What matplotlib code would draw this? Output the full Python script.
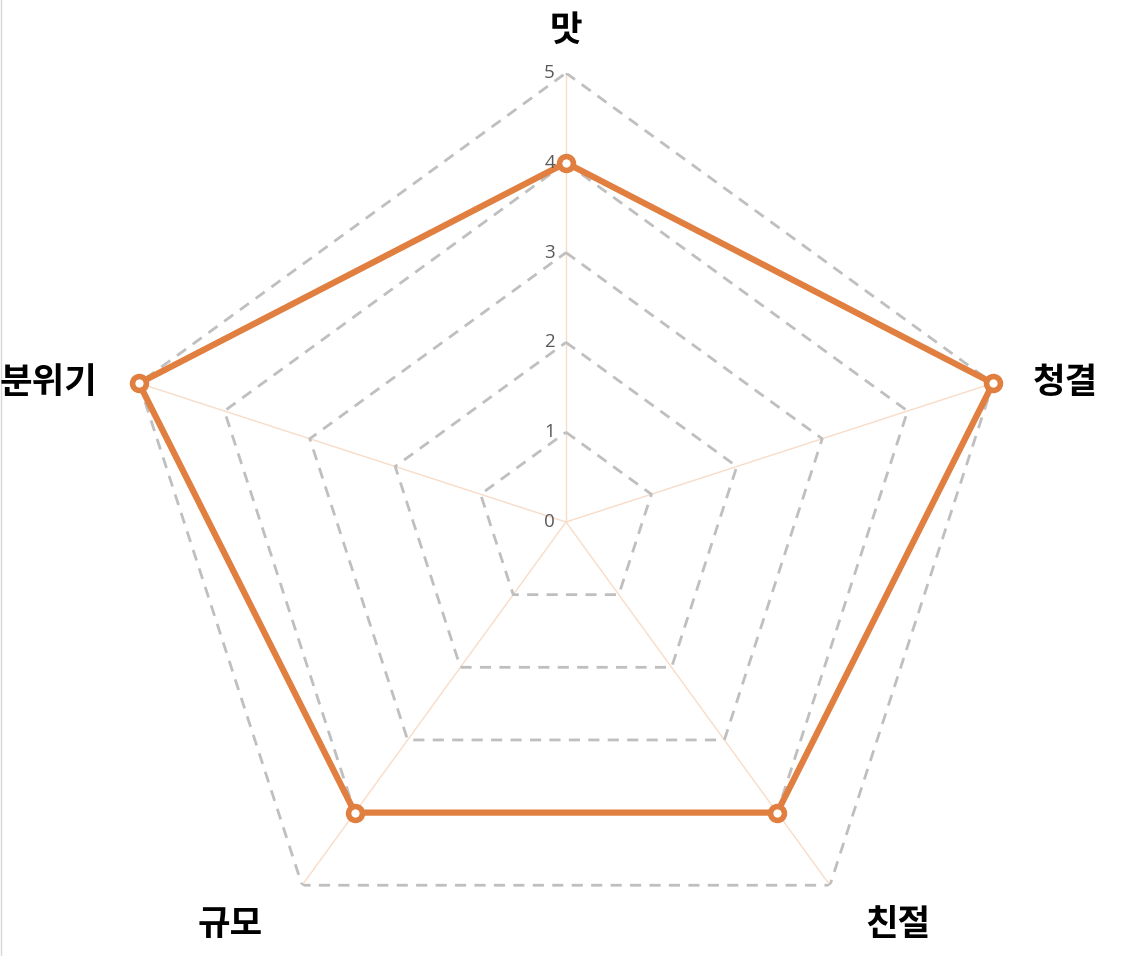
import numpy as np
import matplotlib
matplotlib.use("Agg")
import matplotlib.pyplot as plt
from matplotlib.lines import Line2D

plt.rcParams['font.family'] = ['Noto Sans CJK KR', 'DejaVu Sans']

categories = ['맛', '청결', '친절', '규모', '분위기']
values = [4, 5, 4, 4, 5]
ticks = [0, 1, 2, 3, 4, 5]

W, H = 1126, 956
fig = plt.figure(figsize=(W / 100, H / 100), dpi=100)
cx, cy, R = 566, 956 - 522, 449
ax = fig.add_axes([(cx - R) / W, (cy - R) / H, 2 * R / W, 2 * R / H], projection='polar')
ax.set_theta_zero_location('N')
ax.set_theta_direction(-1)
ax.set_ylim(0, 5)
ax.axis('off')

n = len(categories)
angles = np.arange(n) * 2 * np.pi / n
closed = np.append(angles, angles[0])

# spokes
for a in angles:
    ax.plot([a, a], [0, 5], color='#f8dcc8', lw=1.0, zorder=1)

# dashed grid polygons
for t in ticks[1:]:
    ax.plot(closed, [t] * (n + 1), color='#bfbfbf', lw=2.0, ls=(0, (4, 3)), zorder=2)

# data
vals = np.append(values, values[0])
ax.plot(closed, vals, color='#e07f3f', lw=4.5, zorder=4, solid_joinstyle='miter', clip_on=False)
ax.plot(angles, values, ls='none', marker='o', ms=10, mfc='white', mec='#e07f3f', mew=4,
        zorder=5, clip_on=False)

# tick labels
for t in ticks:
    ax.annotate(str(t), xy=(0, t), xytext=(-8, 0), textcoords='offset points',
                ha='right', va='center', fontsize=13.5, color='#595959',
                family=['Open Sans', 'DejaVu Sans'], zorder=6)

# category labels (figure pixel positions)
label_pos = [(566, 30), (1065, 382), (898, 925), (230, 925), (48, 382)]
for lab, (x, y) in zip(categories, label_pos):
    fig.text(x / W, 1 - y / H, lab, ha='center', va='center', fontsize=25.5,
             fontweight='bold', color='black')

fig.add_artist(Line2D([0.5 / W, 0.5 / W], [0, 1], color='#d9d9d9', lw=1.0))

fig.savefig('out.png', dpi=100)
